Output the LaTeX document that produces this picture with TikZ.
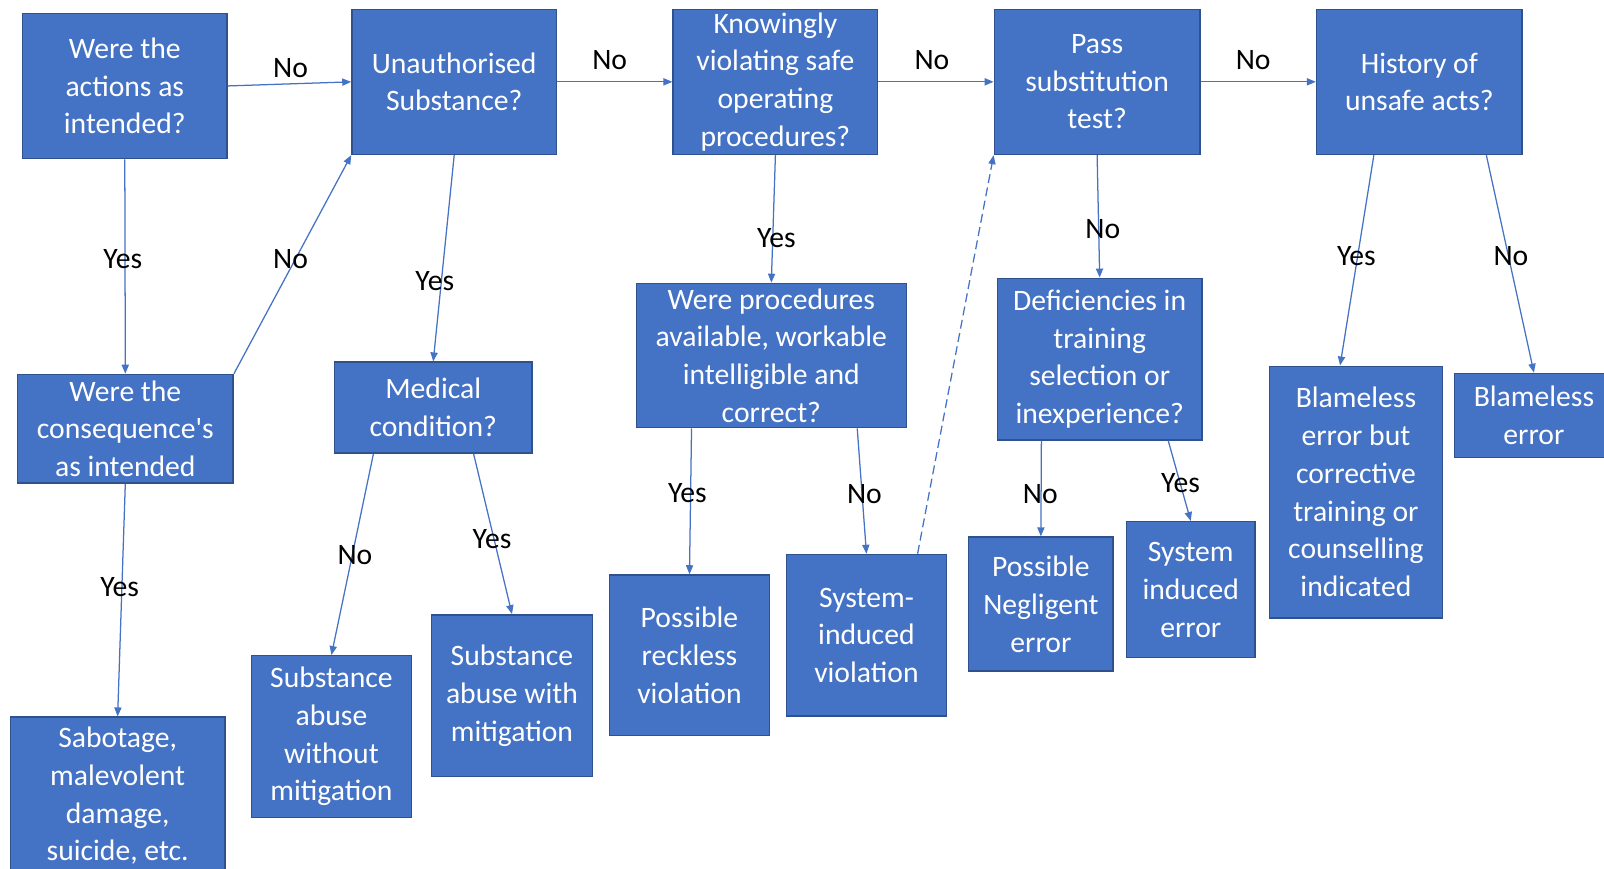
\documentclass[tikz,border=0pt]{standalone}
\usepackage{fontspec}
\setmainfont{Carlito}
\usepackage{xcolor}
\usepackage{tikz}
\usetikzlibrary{arrows.meta}
\definecolor{boxblue}{HTML}{4472C4}
\definecolor{rimblue}{HTML}{2F528F}

\begin{document}
\begin{tikzpicture}[x=0.02cm, y=-0.02cm,
    box/.style={draw=rimblue, line width=0.8pt, fill=boxblue, text=white, align=center,
      inner sep=0pt, font=\fontsize{16.5}{21}\selectfont},
    lbl/.style={font=\fontsize{16.5}{21}\selectfont},
    arr/.style={boxblue, line width=0.7pt, -{Triangle[length=5pt,width=4pt]}}]
    \useasboundingbox (0,0) rectangle (1568,849);
    % top row of questions
    \node[box, minimum width=4cm, minimum height=2.84cm] (act) at (122,84) {Were the\\actions as\\intended?};
    \node[box, minimum width=4cm, minimum height=2.84cm] (sub) at (444,80) {Unauthorised\\Substance?};
    \node[box, minimum width=4cm, minimum height=2.84cm] (sop) at (758,80) {Knowingly\\violating safe\\operating\\procedures?};
    \node[box, minimum width=4.02cm, minimum height=2.84cm] (pst) at (1072.5,80) {Pass\\substitution\\test?};
    \node[box, minimum width=4.02cm, minimum height=2.84cm] (hist) at (1387.5,80) {History of\\unsafe acts?};
    % second level
    \node[box, minimum width=4.22cm, minimum height=2.12cm] (cons) at (122.5,419) {Were the\\consequence\textquotesingle s\\as intended};
    \node[box, minimum width=3.86cm, minimum height=1.78cm] (med) at (423.5,398.5) {Medical\\condition?};
    \node[box, minimum width=5.28cm, minimum height=2.82cm] (proc) at (754,347.5) {Were procedures\\available, workable\\intelligible and\\correct?};
    \node[box, minimum width=4cm, minimum height=3.16cm] (def) at (1075,351) {Deficiencies in\\training\\selection or\\inexperience?};
    \node[box, minimum width=3.38cm, minimum height=4.92cm] (blc) at (1325.5,481) {Blameless\\error but\\corrective\\training or\\counselling\\indicated};
    \node[box, minimum width=3.1cm, minimum height=1.64cm] (ble) at (1499.5,406) {Blameless\\error};
    % outcomes
    \node[box, minimum width=4.2cm, minimum height=3.08cm] (sab) at (115,778) {Sabotage,\\malevolent\\damage,\\suicide, etc.};
    \node[box, minimum width=3.12cm, minimum height=3.16cm] (saw) at (324,720) {Substance\\abuse\\without\\mitigation};
    \node[box, minimum width=3.14cm, minimum height=3.16cm] (sam) at (500.5,680) {Substance\\abuse with\\mitigation};
    \node[box, minimum width=3.12cm, minimum height=3.14cm] (prv) at (674,640.5) {Possible\\reckless\\violation};
    \node[box, minimum width=3.12cm, minimum height=3.16cm] (siv) at (847,621) {System-\\induced\\violation};
    \node[box, minimum width=2.82cm, minimum height=2.62cm] (pne) at (1017.5,590.5) {Possible\\Negligent\\error};
    \node[box, minimum width=2.52cm, minimum height=2.66cm] (sie) at (1164,576.5) {System\\induced\\error};

    % connectors
    \draw[arr] (act.east) -- (sub.west);
    \draw[arr] (sub.east) -- (sop.west);
    \draw[arr] (sop.east) -- (pst.west);
    \draw[arr] (pst.east) -- (hist.west);
    \draw[arr] (act.south) -- (cons.north);
    \draw[arr] (cons.north east) -- (sub.south west);
    \draw[arr] (sub.south) -- (med.north);
    \draw[arr] (sop.south) -- (proc.north);
    \draw[arr] (pst.south) -- (def.north);
    \draw[arr] ([xshift=-0.89cm]hist.south) -- ([xshift=-0.31cm]blc.north);
    \draw[arr] ([xshift=1.31cm]hist.south) -- (ble.north);
    \draw[arr] (cons.south) -- (sab.north);
    \draw[arr] ([xshift=-1.17cm]med.south) -- (saw.north);
    \draw[arr] ([xshift=0.79cm]med.south) -- (sam.north);
    \draw[arr] ([xshift=-1.56cm]proc.south) -- (prv.north);
    \draw[arr] ([xshift=1.68cm]proc.south) -- (siv.north);
    \draw[arr, dash pattern=on 5pt off 2.5pt] ([xshift=1cm]siv.north) -- (pst.south west);
    \draw[arr] ([xshift=-1.14cm]def.south) -- (pne.north);
    \draw[arr] ([xshift=1.34cm]def.south) -- (sie.north);

    % answers
    \node[lbl] (n1) at (284,67) {No};
    \node[lbl] (n2) at (596,59) {No};
    \node[lbl] (n3) at (911,59) {No};
    \node[lbl] (n4) at (1225,59) {No};
    \node[lbl] (y1) at (120,253) {Yes};
    \node[lbl] (n5) at (284,253) {No};
    \node[lbl] (y2) at (425,275) {Yes};
    \node[lbl] (y3) at (759,233) {Yes};
    \node[lbl] (n6) at (1078,224) {No};
    \node[lbl] (y4) at (1326,250) {Yes};
    \node[lbl] (n7) at (1477,250) {No};
    \node[lbl] (y5) at (117,574) {Yes};
    \node[lbl] (n8) at (347,543) {No};
    \node[lbl] (y6) at (481,527) {Yes};
    \node[lbl] (y7) at (672,482) {Yes};
    \node[lbl] (n9) at (845,483) {No};
    \node[lbl] (n10) at (1017,483) {No};
    \node[lbl] (y8) at (1154,472) {Yes};
  \end{tikzpicture}
\end{document}
